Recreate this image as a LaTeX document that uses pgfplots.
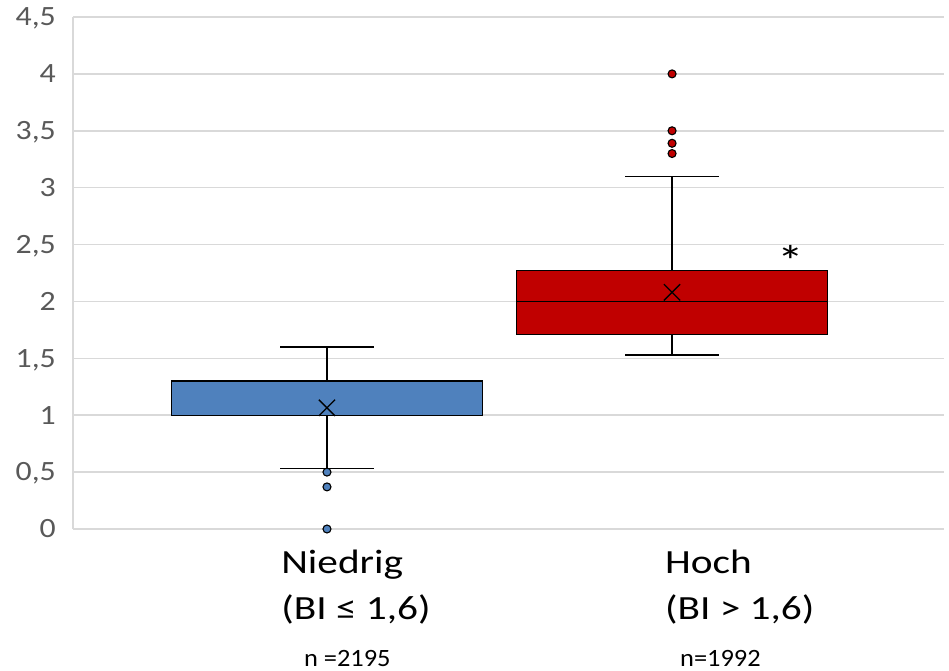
\documentclass[border=0pt]{standalone}
\usepackage{fontspec}
\setmainfont{Carlito}
\newfontfamily\catfont{Carlito}[FakeStretch=1.22]
\newfontfamily\tickfont{Carlito}[FakeStretch=1.14]
\newfontfamily\nfont{Carlito}[FakeStretch=1.06]
\usepackage{pgfplots}
\pgfplotsset{compat=1.18}
\usepgfplotslibrary{statistics}

\definecolor{boxblue}{HTML}{4F81BD}
\definecolor{boxred}{HTML}{C00000}
\definecolor{gridgray}{HTML}{D9D9D9}
\definecolor{ticktext}{HTML}{595959}

\begin{document}
\begin{tikzpicture}
\begin{axis}[
  name=ax,
  scale only axis, width=871bp, height=512bp,
  xmin=0.264, xmax=2.788, ymin=0, ymax=4.5,
  xtick=\empty,
  ytick={0,0.5,1,1.5,2,2.5,3,3.5,4,4.5},
  /pgf/number format/use comma,
  /pgf/number format/assume math mode=true,
  yticklabel style={font=\tickfont\fontsize{28}{32}\selectfont, text=ticktext,
    inner sep=0pt, text height=17.7bp, text depth=0pt, anchor=east, xshift=-17bp},
  major tick length=0pt,
  ymajorgrids, grid style={gridgray, line width=1.6bp},
  axis line style={draw=none},
  boxplot/draw direction=y,
  clip=false,
]
\draw[gridgray, line width=1.6bp] (rel axis cs:0,0) -- (rel axis cs:0,1);

\addplot[
  boxplot prepared={draw position=1,
    lower whisker=0.53, lower quartile=1.0, median=1.0,
    upper quartile=1.3, upper whisker=1.6, average=1.065,
    box extend=0.9, whisker extend=0.27,
    every average/.style={/tikz/mark=x, /tikz/mark size=11.5bp,
      /tikz/mark options={draw=black, line width=1.2bp}}},
  draw=black, line width=1.3bp, fill=boxblue, solid,
  mark=*, mark size=4bp, mark options={fill=boxblue, draw=black, line width=1.1bp}
] table[row sep=\\, y index=0] {0.5\\0.37\\0\\};

\addplot[
  boxplot prepared={draw position=2,
    lower whisker=1.53, lower quartile=1.71, median=2.0,
    upper quartile=2.27, upper whisker=3.1, average=2.08,
    box extend=0.9, whisker extend=0.27,
    every average/.style={/tikz/mark=x, /tikz/mark size=11.5bp,
      /tikz/mark options={draw=black, line width=1.2bp}}},
  draw=black, line width=1.3bp, fill=boxred, solid,
  mark=*, mark size=4bp, mark options={fill=boxred, draw=black, line width=1.1bp}
] table[row sep=\\, y index=0] {4.0\\3.5\\3.39\\3.3\\};

\node[anchor=base, inner sep=0pt, font=\catfont\fontsize{44}{48}\selectfont] at (axis cs:2.344,2.22) {*};

\node[anchor=base west, inner sep=0pt, font=\catfont\fontsize{34}{38}\selectfont, yshift=-44bp] at (axis cs:0.867,0) {Niedrig};
\node[anchor=base west, inner sep=0pt, font=\catfont\fontsize{34}{38}\selectfont, yshift=-90bp] at (axis cs:0.867,0) {(BI ≤ 1,6)};
\node[anchor=base west, inner sep=0pt, font=\nfont\fontsize{25}{28}\selectfont, yshift=-137bp] at (axis cs:0.933,0) {n =2195};

\node[anchor=base west, inner sep=0pt, font=\catfont\fontsize{34}{38}\selectfont, yshift=-44bp] at (axis cs:1.979,0) {Hoch};
\node[anchor=base west, inner sep=0pt, font=\catfont\fontsize{34}{38}\selectfont, yshift=-90bp] at (axis cs:1.979,0) {(BI > 1,6)};
\node[anchor=base west, inner sep=0pt, font=\nfont\fontsize{25}{28}\selectfont, yshift=-137bp] at (axis cs:2.023,0) {n=1992};
\end{axis}
\pgfresetboundingbox
\path[use as bounding box] ([shift={(-73bp,-142bp)}]ax.south west) rectangle ([shift={(5bp,17bp)}]ax.north east);
\end{tikzpicture}
\end{document}
